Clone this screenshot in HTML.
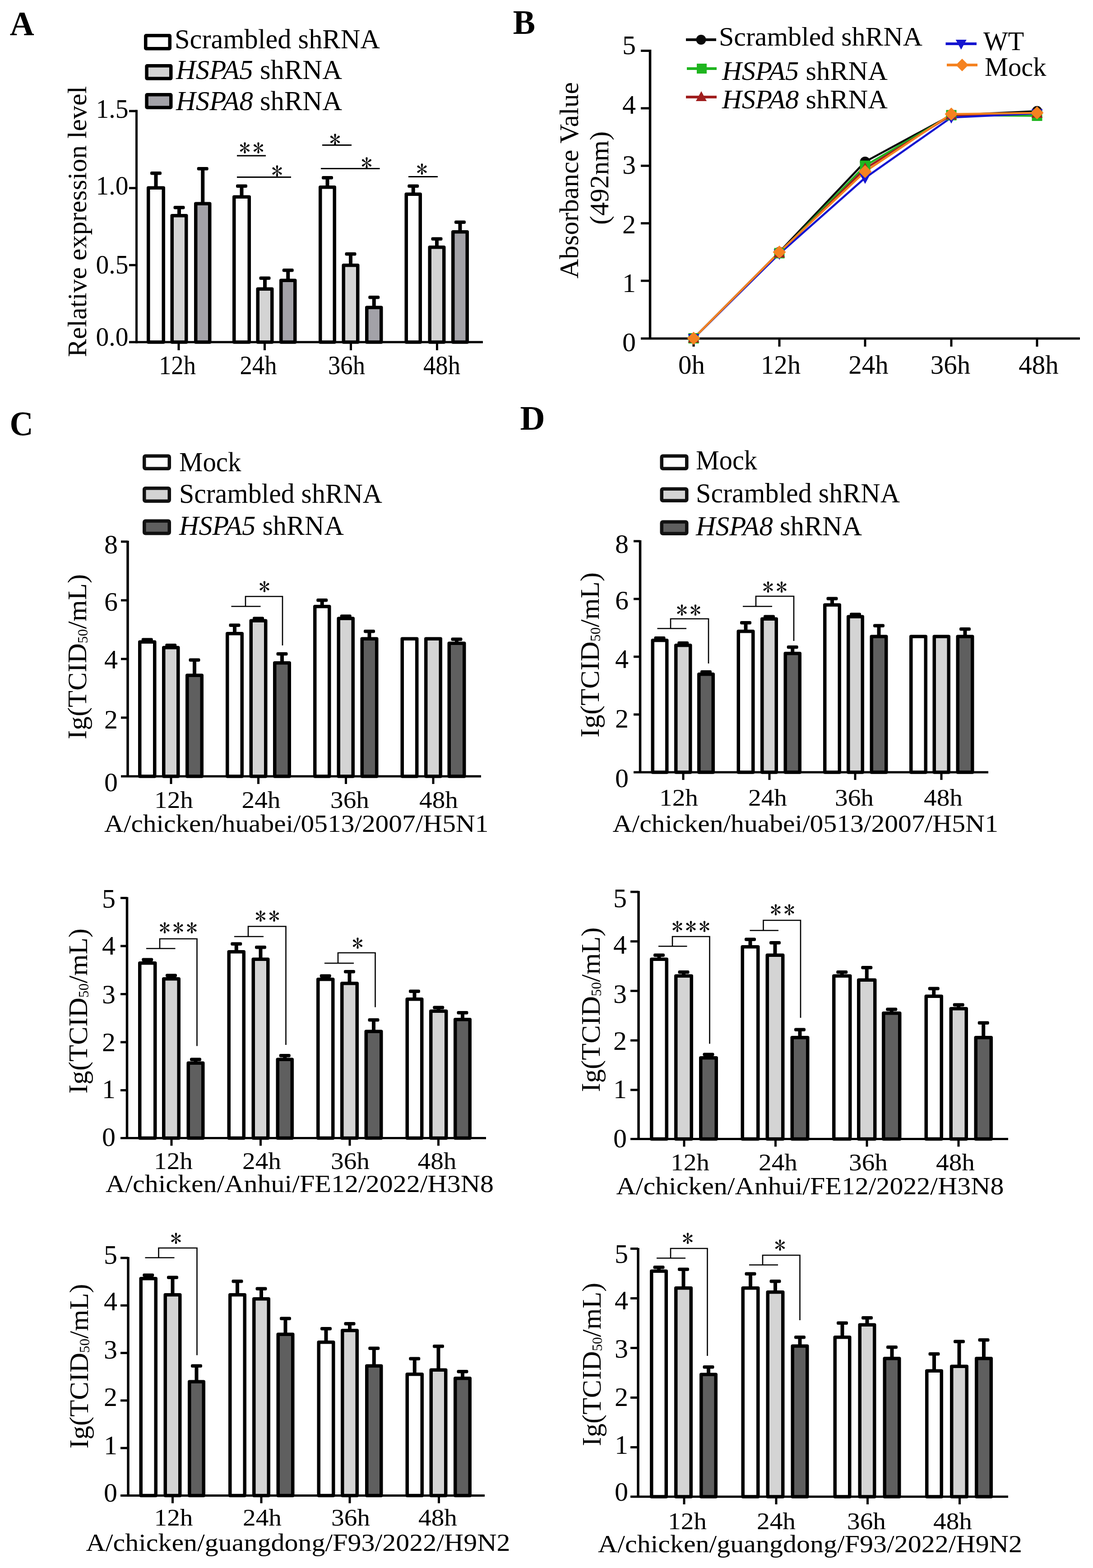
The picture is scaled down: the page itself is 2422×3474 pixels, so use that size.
<!DOCTYPE html><html><head><meta charset="utf-8"><title>Figure</title><style>html,body{margin:0;padding:0;background:#fff;}svg{display:block;}text{font-family:'Liberation Serif','Times New Roman',serif;fill:#000;}text.ast{font-family:"IPAGothic","Liberation Serif",sans-serif;}</style></head><body>
<svg width="2422" height="3474" viewBox="0 0 2422 3474">
<rect x="0" y="0" width="2422" height="3474" fill="#fff"/>
<text x="21.7" y="77.5" font-size="77" textLength="53.9" lengthAdjust="spacingAndGlyphs" font-weight="bold">A</text>
<rect x="322.75" y="78.75" width="53.5" height="29" rx="1" fill="#fff" stroke="#000" stroke-width="7.5"/>
<rect x="325.05" y="145.75" width="53.7" height="28.3" rx="1" fill="#d4d4d4" stroke="#000" stroke-width="7.5"/>
<rect x="325.05" y="209.75" width="53.7" height="28.5" rx="1" fill="#a3a2a8" stroke="#000" stroke-width="7.5"/>
<text x="387" y="106.5" font-size="62" textLength="455" lengthAdjust="spacingAndGlyphs">Scrambled shRNA</text>
<text x="390" y="175" font-size="62" textLength="368" lengthAdjust="spacingAndGlyphs"><tspan font-style="italic">HSPA5</tspan> shRNA</text>
<text x="390" y="244" font-size="62" textLength="368" lengthAdjust="spacingAndGlyphs"><tspan font-style="italic">HSPA8</tspan> shRNA</text>
<line x1="302.5" y1="243.5" x2="302.5" y2="760.5" stroke="#000" stroke-width="5" stroke-linecap="butt"/>
<line x1="286" y1="246.05" x2="302.5" y2="246.05" stroke="#000" stroke-width="5" stroke-linecap="butt"/>
<line x1="286" y1="416.7" x2="302.5" y2="416.7" stroke="#000" stroke-width="5" stroke-linecap="butt"/>
<line x1="286" y1="587.35" x2="302.5" y2="587.35" stroke="#000" stroke-width="5" stroke-linecap="butt"/>
<line x1="286" y1="758" x2="1070" y2="758" stroke="#000" stroke-width="5" stroke-linecap="butt"/>
<line x1="396" y1="758" x2="396" y2="776" stroke="#000" stroke-width="5" stroke-linecap="butt"/>
<line x1="586.5" y1="758" x2="586.5" y2="776" stroke="#000" stroke-width="5" stroke-linecap="butt"/>
<line x1="777.5" y1="758" x2="777.5" y2="776" stroke="#000" stroke-width="5" stroke-linecap="butt"/>
<line x1="968.5" y1="758" x2="968.5" y2="776" stroke="#000" stroke-width="5" stroke-linecap="butt"/>
<text x="284.5" y="261" font-size="60" text-anchor="end" textLength="72" lengthAdjust="spacingAndGlyphs">1.5</text>
<text x="284.5" y="431" font-size="60" text-anchor="end" textLength="72" lengthAdjust="spacingAndGlyphs">1.0</text>
<text x="284.5" y="606" font-size="60" text-anchor="end" textLength="72" lengthAdjust="spacingAndGlyphs">0.5</text>
<text x="284.5" y="766" font-size="60" text-anchor="end" textLength="72" lengthAdjust="spacingAndGlyphs">0.0</text>
<text transform="translate(191,491) rotate(-90)" x="0" y="0" font-size="59" text-anchor="middle" textLength="600" lengthAdjust="spacingAndGlyphs">Relative expression level</text>
<text x="393" y="829" font-size="59" text-anchor="middle" textLength="82" lengthAdjust="spacingAndGlyphs">12h</text>
<text x="572.5" y="829" font-size="59" text-anchor="middle" textLength="82" lengthAdjust="spacingAndGlyphs">24h</text>
<text x="768" y="829" font-size="59" text-anchor="middle" textLength="82" lengthAdjust="spacingAndGlyphs">36h</text>
<text x="979" y="829" font-size="59" text-anchor="middle" textLength="82" lengthAdjust="spacingAndGlyphs">48h</text>
<rect x="328.75" y="416.25" width="33.5" height="341.75" fill="#fff" stroke="#000" stroke-width="7.5" stroke-linejoin="round"/>
<line x1="345.5" y1="414.5" x2="345.5" y2="383.5" stroke="#000" stroke-width="8" stroke-linecap="butt"/>
<rect x="333" y="380" width="25" height="7.5" rx="3" fill="#000"/>
<rect x="381.25" y="477.75" width="31.5" height="280.25" fill="#d4d4d4" stroke="#000" stroke-width="7.5" stroke-linejoin="round"/>
<line x1="397" y1="476" x2="397" y2="459.5" stroke="#000" stroke-width="8" stroke-linecap="butt"/>
<rect x="384.5" y="456" width="25" height="7.5" rx="3" fill="#000"/>
<rect x="433.75" y="451.25" width="31" height="306.75" fill="#a3a2a8" stroke="#000" stroke-width="7.5" stroke-linejoin="round"/>
<line x1="449.25" y1="449.5" x2="449.25" y2="373.5" stroke="#000" stroke-width="8" stroke-linecap="butt"/>
<rect x="436.75" y="370" width="25" height="7.5" rx="3" fill="#000"/>
<rect x="518.75" y="436.25" width="33.5" height="321.75" fill="#fff" stroke="#000" stroke-width="7.5" stroke-linejoin="round"/>
<line x1="535.5" y1="434.5" x2="535.5" y2="412" stroke="#000" stroke-width="8" stroke-linecap="butt"/>
<rect x="523" y="408.5" width="25" height="7.5" rx="3" fill="#000"/>
<rect x="571.25" y="640.25" width="31.5" height="117.75" fill="#d4d4d4" stroke="#000" stroke-width="7.5" stroke-linejoin="round"/>
<line x1="587" y1="638.5" x2="587" y2="616" stroke="#000" stroke-width="8" stroke-linecap="butt"/>
<rect x="574.5" y="612.5" width="25" height="7.5" rx="3" fill="#000"/>
<rect x="622.75" y="621.25" width="31" height="136.75" fill="#a3a2a8" stroke="#000" stroke-width="7.5" stroke-linejoin="round"/>
<line x1="638.25" y1="619.5" x2="638.25" y2="598.5" stroke="#000" stroke-width="8" stroke-linecap="butt"/>
<rect x="625.75" y="595" width="25" height="7.5" rx="3" fill="#000"/>
<rect x="709.75" y="414.75" width="31.5" height="343.25" fill="#fff" stroke="#000" stroke-width="7.5" stroke-linejoin="round"/>
<line x1="725.5" y1="413" x2="725.5" y2="393.5" stroke="#000" stroke-width="8" stroke-linecap="butt"/>
<rect x="713" y="390" width="25" height="7.5" rx="3" fill="#000"/>
<rect x="761.25" y="587.75" width="31.5" height="170.25" fill="#d4d4d4" stroke="#000" stroke-width="7.5" stroke-linejoin="round"/>
<line x1="777" y1="586" x2="777" y2="562.5" stroke="#000" stroke-width="8" stroke-linecap="butt"/>
<rect x="764.5" y="559" width="25" height="7.5" rx="3" fill="#000"/>
<rect x="812.75" y="681.25" width="32" height="76.75" fill="#a3a2a8" stroke="#000" stroke-width="7.5" stroke-linejoin="round"/>
<line x1="828.75" y1="679.5" x2="828.75" y2="658.5" stroke="#000" stroke-width="8" stroke-linecap="butt"/>
<rect x="816.25" y="655" width="25" height="7.5" rx="3" fill="#000"/>
<rect x="900.25" y="430.25" width="31" height="327.75" fill="#fff" stroke="#000" stroke-width="7.5" stroke-linejoin="round"/>
<line x1="915.75" y1="428.5" x2="915.75" y2="412" stroke="#000" stroke-width="8" stroke-linecap="butt"/>
<rect x="903.25" y="408.5" width="25" height="7.5" rx="3" fill="#000"/>
<rect x="952.25" y="547.75" width="31.5" height="210.25" fill="#d4d4d4" stroke="#000" stroke-width="7.5" stroke-linejoin="round"/>
<line x1="968" y1="546" x2="968" y2="529" stroke="#000" stroke-width="8" stroke-linecap="butt"/>
<rect x="955.5" y="525.5" width="25" height="7.5" rx="3" fill="#000"/>
<rect x="1003.75" y="513.75" width="31.5" height="244.25" fill="#a3a2a8" stroke="#000" stroke-width="7.5" stroke-linejoin="round"/>
<line x1="1019.5" y1="512" x2="1019.5" y2="492" stroke="#000" stroke-width="8" stroke-linecap="butt"/>
<rect x="1007" y="488.5" width="25" height="7.5" rx="3" fill="#000"/>
<line x1="525" y1="345" x2="589" y2="345" stroke="#000" stroke-width="2.8" stroke-linecap="butt"/>
<text class="ast" x="542.5" y="346" font-size="50" text-anchor="middle">*</text>
<text class="ast" x="572.5" y="346" font-size="50" text-anchor="middle">*</text>
<line x1="525" y1="392.5" x2="645" y2="392.5" stroke="#000" stroke-width="2.8" stroke-linecap="butt"/>
<text class="ast" x="614" y="396.5" font-size="50" text-anchor="middle">*</text>
<line x1="714" y1="321.5" x2="779" y2="321.5" stroke="#000" stroke-width="2.8" stroke-linecap="butt"/>
<text class="ast" x="742.5" y="326.5" font-size="50" text-anchor="middle">*</text>
<line x1="711" y1="373.5" x2="841.5" y2="373.5" stroke="#000" stroke-width="2.8" stroke-linecap="butt"/>
<text class="ast" x="812.5" y="379" font-size="50" text-anchor="middle">*</text>
<line x1="905" y1="391.5" x2="970" y2="391.5" stroke="#000" stroke-width="2.8" stroke-linecap="butt"/>
<text class="ast" x="935" y="393" font-size="50" text-anchor="middle">*</text>
<text x="1136.7" y="75" font-size="77" textLength="49.3" lengthAdjust="spacingAndGlyphs" font-weight="bold">B</text>
<line x1="1440.5" y1="110" x2="1440.5" y2="752" stroke="#000" stroke-width="5.5" stroke-linecap="butt"/>
<line x1="1420" y1="622.1" x2="1440.5" y2="622.1" stroke="#000" stroke-width="5" stroke-linecap="butt"/>
<line x1="1420" y1="494.7" x2="1440.5" y2="494.7" stroke="#000" stroke-width="5" stroke-linecap="butt"/>
<line x1="1420" y1="367.3" x2="1440.5" y2="367.3" stroke="#000" stroke-width="5" stroke-linecap="butt"/>
<line x1="1420" y1="239.9" x2="1440.5" y2="239.9" stroke="#000" stroke-width="5" stroke-linecap="butt"/>
<line x1="1420" y1="112.5" x2="1440.5" y2="112.5" stroke="#000" stroke-width="5" stroke-linecap="butt"/>
<line x1="1420" y1="750" x2="2393" y2="750" stroke="#000" stroke-width="5" stroke-linecap="butt"/>
<line x1="1537" y1="750" x2="1537" y2="768" stroke="#000" stroke-width="5" stroke-linecap="butt"/>
<line x1="1727" y1="750" x2="1727" y2="768" stroke="#000" stroke-width="5" stroke-linecap="butt"/>
<line x1="1917" y1="750" x2="1917" y2="768" stroke="#000" stroke-width="5" stroke-linecap="butt"/>
<line x1="2108" y1="750" x2="2108" y2="768" stroke="#000" stroke-width="5" stroke-linecap="butt"/>
<line x1="2298" y1="750" x2="2298" y2="768" stroke="#000" stroke-width="5" stroke-linecap="butt"/>
<text x="1409" y="119.5" font-size="60" text-anchor="end">5</text>
<text x="1409" y="252" font-size="60" text-anchor="end">4</text>
<text x="1409" y="384.5" font-size="60" text-anchor="end">3</text>
<text x="1409" y="517" font-size="60" text-anchor="end">2</text>
<text x="1409" y="647" font-size="60" text-anchor="end">1</text>
<text x="1409" y="778" font-size="60" text-anchor="end">0</text>
<text transform="translate(1281,399.5) rotate(-90)" x="0" y="0" font-size="60" text-anchor="middle" textLength="435" lengthAdjust="spacingAndGlyphs">Absorbance Value</text>
<text transform="translate(1348,394.5) rotate(-90)" x="0" y="0" font-size="60" text-anchor="middle" textLength="207" lengthAdjust="spacingAndGlyphs">(492nm)</text>
<text x="1532.5" y="828" font-size="59" text-anchor="middle">0h</text>
<text x="1730" y="828" font-size="59" text-anchor="middle">12h</text>
<text x="1924.5" y="828" font-size="59" text-anchor="middle">24h</text>
<text x="2106" y="828" font-size="59" text-anchor="middle">36h</text>
<text x="2301.5" y="828" font-size="59" text-anchor="middle">48h</text>
<polyline points="1537,749.5 1727,558.4 1917,358.38 2108,255.19 2298,246.27" fill="none" stroke="#0a0a0a" stroke-width="4.5" stroke-linejoin="round"/>
<polyline points="1537,749.5 1727,560.95 1917,367.3 2108,255.19 2298,256.46" fill="none" stroke="#1fb51f" stroke-width="4.5" stroke-linejoin="round"/>
<polyline points="1537,749.5 1727,560.95 1917,373.67 2108,255.19 2298,251.37" fill="none" stroke="#a01e1e" stroke-width="4.5" stroke-linejoin="round"/>
<polyline points="1537,749.5 1727,562.22 1917,394.05 2108,260.28 2298,251.37" fill="none" stroke="#1515d0" stroke-width="4.5" stroke-linejoin="round"/>
<polyline points="1537,749.5 1727,558.4 1917,380.04 2108,252.64 2298,250.09" fill="none" stroke="#f58220" stroke-width="4.5" stroke-linejoin="round"/>
<circle cx="1537" cy="749.5" r="11.5" fill="#0a0a0a"/>
<circle cx="1727" cy="558.4" r="11.5" fill="#0a0a0a"/>
<circle cx="1917" cy="358.38" r="11.5" fill="#0a0a0a"/>
<circle cx="2108" cy="255.19" r="11.5" fill="#0a0a0a"/>
<circle cx="2298" cy="246.27" r="11.5" fill="#0a0a0a"/>
<rect x="1525.5" y="738" width="23" height="23" fill="#1fb51f"/>
<rect x="1715.5" y="549.45" width="23" height="23" fill="#1fb51f"/>
<rect x="1905.5" y="355.8" width="23" height="23" fill="#1fb51f"/>
<rect x="2096.5" y="243.69" width="23" height="23" fill="#1fb51f"/>
<rect x="2286.5" y="244.96" width="23" height="23" fill="#1fb51f"/>
<polygon points="1537,736 1549.5,759 1524.5,759" fill="#a01e1e"/>
<polygon points="1727,547.45 1739.5,570.45 1714.5,570.45" fill="#a01e1e"/>
<polygon points="1917,360.17 1929.5,383.17 1904.5,383.17" fill="#a01e1e"/>
<polygon points="2108,241.69 2120.5,264.69 2095.5,264.69" fill="#a01e1e"/>
<polygon points="2298,237.87 2310.5,260.87 2285.5,260.87" fill="#a01e1e"/>
<polygon points="1537,763 1549.5,740 1524.5,740" fill="#1515d0"/>
<polygon points="1727,575.72 1739.5,552.72 1714.5,552.72" fill="#1515d0"/>
<polygon points="1917,407.55 1929.5,384.55 1904.5,384.55" fill="#1515d0"/>
<polygon points="2108,273.78 2120.5,250.78 2095.5,250.78" fill="#1515d0"/>
<polygon points="2298,264.87 2310.5,241.87 2285.5,241.87" fill="#1515d0"/>
<polygon points="1537,735 1551.5,749.5 1537,764 1522.5,749.5" fill="#f58220"/>
<polygon points="1727,543.9 1741.5,558.4 1727,572.9 1712.5,558.4" fill="#f58220"/>
<polygon points="1917,365.54 1931.5,380.04 1917,394.54 1902.5,380.04" fill="#f58220"/>
<polygon points="2108,238.14 2122.5,252.64 2108,267.14 2093.5,252.64" fill="#f58220"/>
<polygon points="2298,235.59 2312.5,250.09 2298,264.59 2283.5,250.09" fill="#f58220"/>
<line x1="1520" y1="88" x2="1587" y2="88" stroke="#0a0a0a" stroke-width="6" stroke-linecap="butt"/>
<circle cx="1553.5" cy="88" r="11" fill="#0a0a0a"/>
<text x="1593" y="101" font-size="60" textLength="451" lengthAdjust="spacingAndGlyphs">Scrambled shRNA</text>
<line x1="1522" y1="152" x2="1588" y2="152" stroke="#1fb51f" stroke-width="6" stroke-linecap="butt"/>
<rect x="1544" y="141" width="22" height="22" fill="#1fb51f"/>
<text x="1600" y="177" font-size="60" textLength="367" lengthAdjust="spacingAndGlyphs"><tspan font-style="italic">HSPA5</tspan> shRNA</text>
<line x1="1520" y1="215" x2="1588" y2="215" stroke="#a01e1e" stroke-width="6" stroke-linecap="butt"/>
<polygon points="1554,202 1566,224 1542,224" fill="#a01e1e"/>
<text x="1600" y="240" font-size="60" textLength="367" lengthAdjust="spacingAndGlyphs"><tspan font-style="italic">HSPA8</tspan> shRNA</text>
<line x1="2095.5" y1="97" x2="2164" y2="97" stroke="#1515d0" stroke-width="6" stroke-linecap="butt"/>
<polygon points="2129.75,110 2141.75,88 2117.75,88" fill="#1515d0"/>
<text x="2179" y="111" font-size="60" textLength="90" lengthAdjust="spacingAndGlyphs">WT</text>
<line x1="2098" y1="144" x2="2166" y2="144" stroke="#f58220" stroke-width="6" stroke-linecap="butt"/>
<polygon points="2132,130 2146,144 2132,158 2118,144" fill="#f58220"/>
<text x="2182" y="167.5" font-size="60" textLength="136.5" lengthAdjust="spacingAndGlyphs">Mock</text>
<text x="21.4" y="964" font-size="77" textLength="52.1" lengthAdjust="spacingAndGlyphs" font-weight="bold">C</text>
<rect x="319.75" y="1010.25" width="55.5" height="28" rx="2.5" fill="#fff" stroke="#111" stroke-width="7.5"/>
<rect x="319.75" y="1081.75" width="55.5" height="28.5" rx="2.5" fill="#d4d4d4" stroke="#111" stroke-width="7.5"/>
<rect x="319.75" y="1154.25" width="55.5" height="27.5" rx="2.5" fill="#5f5f5f" stroke="#111" stroke-width="7.5"/>
<text x="397" y="1043.5" font-size="62" textLength="137.5" lengthAdjust="spacingAndGlyphs">Mock</text>
<text x="397" y="1113.5" font-size="62" textLength="450" lengthAdjust="spacingAndGlyphs">Scrambled shRNA</text>
<text x="397" y="1185" font-size="62" textLength="365" lengthAdjust="spacingAndGlyphs"><tspan font-style="italic">HSPA5</tspan> shRNA</text>
<line x1="283" y1="1198" x2="283" y2="1722" stroke="#000" stroke-width="5.5" stroke-linecap="butt"/>
<line x1="268" y1="1590" x2="283" y2="1590" stroke="#000" stroke-width="5" stroke-linecap="butt"/>
<line x1="268" y1="1460" x2="283" y2="1460" stroke="#000" stroke-width="5" stroke-linecap="butt"/>
<line x1="268" y1="1330" x2="283" y2="1330" stroke="#000" stroke-width="5" stroke-linecap="butt"/>
<line x1="268" y1="1200" x2="283" y2="1200" stroke="#000" stroke-width="5" stroke-linecap="butt"/>
<line x1="268" y1="1720" x2="1066" y2="1720" stroke="#000" stroke-width="5" stroke-linecap="butt"/>
<line x1="379" y1="1720" x2="379" y2="1737" stroke="#000" stroke-width="5" stroke-linecap="butt"/>
<line x1="572.5" y1="1720" x2="572.5" y2="1737" stroke="#000" stroke-width="5" stroke-linecap="butt"/>
<line x1="766.5" y1="1720" x2="766.5" y2="1737" stroke="#000" stroke-width="5" stroke-linecap="butt"/>
<line x1="960" y1="1720" x2="960" y2="1737" stroke="#000" stroke-width="5" stroke-linecap="butt"/>
<text x="261" y="1226" font-size="60" text-anchor="end">8</text>
<text x="261" y="1353" font-size="60" text-anchor="end">6</text>
<text x="261" y="1481" font-size="60" text-anchor="end">4</text>
<text x="261" y="1614" font-size="60" text-anchor="end">2</text>
<text x="261" y="1752.5" font-size="60" text-anchor="end">0</text>
<text transform="translate(191,1455) rotate(-90)" x="0" y="0" font-size="59" text-anchor="middle" textLength="366" lengthAdjust="spacingAndGlyphs">Ig(TCID<tspan font-size="30.68" dy="3">50</tspan><tspan dy="-3">/mL)</tspan></text>
<text x="385" y="1790" font-size="53" text-anchor="middle" textLength="86" lengthAdjust="spacingAndGlyphs">12h</text>
<text x="578.5" y="1790" font-size="53" text-anchor="middle" textLength="86" lengthAdjust="spacingAndGlyphs">24h</text>
<text x="775" y="1790" font-size="53" text-anchor="middle" textLength="86" lengthAdjust="spacingAndGlyphs">36h</text>
<text x="972" y="1790" font-size="53" text-anchor="middle" textLength="86" lengthAdjust="spacingAndGlyphs">48h</text>
<text x="231" y="1842.5" font-size="55" textLength="851.5" lengthAdjust="spacingAndGlyphs">A/chicken/huabei/0513/2007/H5N1</text>
<rect x="309.75" y="1422.25" width="33" height="297.75" fill="#fff" stroke="#000" stroke-width="7.5" stroke-linejoin="round"/>
<rect x="313.75" y="1413.5" width="25" height="11" rx="3" fill="#000"/>
<rect x="362.75" y="1434.75" width="32" height="285.25" fill="#d4d4d4" stroke="#000" stroke-width="7.5" stroke-linejoin="round"/>
<rect x="366.25" y="1426" width="25" height="11" rx="3" fill="#000"/>
<rect x="414.75" y="1496.25" width="32.5" height="223.75" fill="#5f5f5f" stroke="#000" stroke-width="7.5" stroke-linejoin="round"/>
<line x1="431" y1="1494.5" x2="431" y2="1462" stroke="#000" stroke-width="8" stroke-linecap="butt"/>
<rect x="418.5" y="1458.5" width="25" height="7.5" rx="3" fill="#000"/>
<rect x="503.75" y="1403.75" width="32.5" height="316.25" fill="#fff" stroke="#000" stroke-width="7.5" stroke-linejoin="round"/>
<line x1="520" y1="1402" x2="520" y2="1385" stroke="#000" stroke-width="8" stroke-linecap="butt"/>
<rect x="507.5" y="1381.5" width="25" height="7.5" rx="3" fill="#000"/>
<rect x="556.25" y="1375.25" width="32.5" height="344.75" fill="#d4d4d4" stroke="#000" stroke-width="7.5" stroke-linejoin="round"/>
<rect x="560" y="1366.5" width="25" height="11" rx="3" fill="#000"/>
<rect x="608.75" y="1468.75" width="32.5" height="251.25" fill="#5f5f5f" stroke="#000" stroke-width="7.5" stroke-linejoin="round"/>
<line x1="625" y1="1467" x2="625" y2="1448.5" stroke="#000" stroke-width="8" stroke-linecap="butt"/>
<rect x="612.5" y="1445" width="25" height="7.5" rx="3" fill="#000"/>
<rect x="697.75" y="1343.75" width="32" height="376.25" fill="#fff" stroke="#000" stroke-width="7.5" stroke-linejoin="round"/>
<line x1="713.75" y1="1342" x2="713.75" y2="1329.5" stroke="#000" stroke-width="8" stroke-linecap="butt"/>
<rect x="701.25" y="1326" width="25" height="7.5" rx="3" fill="#000"/>
<rect x="750.25" y="1370.25" width="32" height="349.75" fill="#d4d4d4" stroke="#000" stroke-width="7.5" stroke-linejoin="round"/>
<rect x="753.75" y="1361.5" width="25" height="11" rx="3" fill="#000"/>
<rect x="802.25" y="1415.25" width="32.5" height="304.75" fill="#5f5f5f" stroke="#000" stroke-width="7.5" stroke-linejoin="round"/>
<line x1="818.5" y1="1413.5" x2="818.5" y2="1398.5" stroke="#000" stroke-width="8" stroke-linecap="butt"/>
<rect x="806" y="1395" width="25" height="7.5" rx="3" fill="#000"/>
<rect x="891.25" y="1415.25" width="32.5" height="304.75" fill="#fff" stroke="#000" stroke-width="7.5" stroke-linejoin="round"/>
<rect x="943.75" y="1415.25" width="32.5" height="304.75" fill="#d4d4d4" stroke="#000" stroke-width="7.5" stroke-linejoin="round"/>
<rect x="995.25" y="1425.25" width="33.5" height="294.75" fill="#5f5f5f" stroke="#000" stroke-width="7.5" stroke-linejoin="round"/>
<line x1="1012" y1="1423.5" x2="1012" y2="1416" stroke="#000" stroke-width="8" stroke-linecap="butt"/>
<rect x="999.5" y="1412.5" width="25" height="7.5" rx="3" fill="#000"/>
<line x1="512.5" y1="1343.5" x2="577.5" y2="1343.5" stroke="#000" stroke-width="2.6" stroke-linecap="butt"/>
<polyline points="544,1343.5 544,1321.5 626,1321.5 626,1430" fill="none" stroke="#000" stroke-width="2.6" stroke-linejoin="miter"/>
<text class="ast" x="586" y="1318" font-size="50" text-anchor="middle">*</text>
<line x1="281.5" y1="1987.5" x2="281.5" y2="2523.5" stroke="#000" stroke-width="5.5" stroke-linecap="butt"/>
<line x1="267" y1="2415.5" x2="281.5" y2="2415.5" stroke="#000" stroke-width="5" stroke-linecap="butt"/>
<line x1="267" y1="2309" x2="281.5" y2="2309" stroke="#000" stroke-width="5" stroke-linecap="butt"/>
<line x1="267" y1="2202.5" x2="281.5" y2="2202.5" stroke="#000" stroke-width="5" stroke-linecap="butt"/>
<line x1="267" y1="2096" x2="281.5" y2="2096" stroke="#000" stroke-width="5" stroke-linecap="butt"/>
<line x1="267" y1="1989.5" x2="281.5" y2="1989.5" stroke="#000" stroke-width="5" stroke-linecap="butt"/>
<line x1="267" y1="2521.5" x2="1077" y2="2521.5" stroke="#000" stroke-width="5" stroke-linecap="butt"/>
<line x1="380" y1="2521.5" x2="380" y2="2538.5" stroke="#000" stroke-width="5" stroke-linecap="butt"/>
<line x1="577.5" y1="2521.5" x2="577.5" y2="2538.5" stroke="#000" stroke-width="5" stroke-linecap="butt"/>
<line x1="775" y1="2521.5" x2="775" y2="2538.5" stroke="#000" stroke-width="5" stroke-linecap="butt"/>
<line x1="971.5" y1="2521.5" x2="971.5" y2="2538.5" stroke="#000" stroke-width="5" stroke-linecap="butt"/>
<text x="256" y="2011" font-size="60" text-anchor="end">5</text>
<text x="256" y="2114.5" font-size="60" text-anchor="end">4</text>
<text x="256" y="2223" font-size="60" text-anchor="end">3</text>
<text x="256" y="2329" font-size="60" text-anchor="end">2</text>
<text x="256" y="2433" font-size="60" text-anchor="end">1</text>
<text x="256" y="2539" font-size="60" text-anchor="end">0</text>
<text transform="translate(193,2240) rotate(-90)" x="0" y="0" font-size="59" text-anchor="middle" textLength="366" lengthAdjust="spacingAndGlyphs">Ig(TCID<tspan font-size="30.68" dy="3">50</tspan><tspan dy="-3">/mL)</tspan></text>
<text x="384" y="2590" font-size="53" text-anchor="middle" textLength="86" lengthAdjust="spacingAndGlyphs">12h</text>
<text x="580" y="2590" font-size="53" text-anchor="middle" textLength="86" lengthAdjust="spacingAndGlyphs">24h</text>
<text x="776" y="2590" font-size="53" text-anchor="middle" textLength="86" lengthAdjust="spacingAndGlyphs">36h</text>
<text x="968.5" y="2590" font-size="53" text-anchor="middle" textLength="86" lengthAdjust="spacingAndGlyphs">48h</text>
<text x="234" y="2640.5" font-size="55" textLength="860" lengthAdjust="spacingAndGlyphs">A/chicken/Anhui/FE12/2022/H3N8</text>
<rect x="309.75" y="2133.75" width="34" height="387.75" fill="#fff" stroke="#000" stroke-width="7.5" stroke-linejoin="round"/>
<line x1="326.75" y1="2132" x2="326.75" y2="2126" stroke="#000" stroke-width="8" stroke-linecap="butt"/>
<rect x="314.25" y="2122.5" width="25" height="7.5" rx="3" fill="#000"/>
<rect x="362.75" y="2168.75" width="33.5" height="352.75" fill="#d4d4d4" stroke="#000" stroke-width="7.5" stroke-linejoin="round"/>
<line x1="379.5" y1="2167" x2="379.5" y2="2161" stroke="#000" stroke-width="8" stroke-linecap="butt"/>
<rect x="367" y="2157.5" width="25" height="7.5" rx="3" fill="#000"/>
<rect x="417.25" y="2355.25" width="32.5" height="166.25" fill="#5f5f5f" stroke="#000" stroke-width="7.5" stroke-linejoin="round"/>
<line x1="433.5" y1="2353.5" x2="433.5" y2="2347" stroke="#000" stroke-width="8" stroke-linecap="butt"/>
<rect x="421" y="2343.5" width="25" height="7.5" rx="3" fill="#000"/>
<rect x="507.25" y="2108.75" width="33" height="412.75" fill="#fff" stroke="#000" stroke-width="7.5" stroke-linejoin="round"/>
<line x1="523.75" y1="2107" x2="523.75" y2="2091" stroke="#000" stroke-width="8" stroke-linecap="butt"/>
<rect x="511.25" y="2087.5" width="25" height="7.5" rx="3" fill="#000"/>
<rect x="561.25" y="2125.25" width="32.5" height="396.25" fill="#d4d4d4" stroke="#000" stroke-width="7.5" stroke-linejoin="round"/>
<line x1="577.5" y1="2123.5" x2="577.5" y2="2098.5" stroke="#000" stroke-width="8" stroke-linecap="butt"/>
<rect x="565" y="2095" width="25" height="7.5" rx="3" fill="#000"/>
<rect x="615.25" y="2347.25" width="32" height="174.25" fill="#5f5f5f" stroke="#000" stroke-width="7.5" stroke-linejoin="round"/>
<line x1="631.25" y1="2345.5" x2="631.25" y2="2338.5" stroke="#000" stroke-width="8" stroke-linecap="butt"/>
<rect x="618.75" y="2335" width="25" height="7.5" rx="3" fill="#000"/>
<rect x="704.75" y="2169.75" width="33" height="351.75" fill="#fff" stroke="#000" stroke-width="7.5" stroke-linejoin="round"/>
<line x1="721.25" y1="2168" x2="721.25" y2="2162" stroke="#000" stroke-width="8" stroke-linecap="butt"/>
<rect x="708.75" y="2158.5" width="25" height="7.5" rx="3" fill="#000"/>
<rect x="757.75" y="2178.75" width="33.5" height="342.75" fill="#d4d4d4" stroke="#000" stroke-width="7.5" stroke-linejoin="round"/>
<line x1="774.5" y1="2177" x2="774.5" y2="2152.5" stroke="#000" stroke-width="8" stroke-linecap="butt"/>
<rect x="762" y="2149" width="25" height="7.5" rx="3" fill="#000"/>
<rect x="811.25" y="2285.25" width="33.5" height="236.25" fill="#5f5f5f" stroke="#000" stroke-width="7.5" stroke-linejoin="round"/>
<line x1="828" y1="2283.5" x2="828" y2="2259.5" stroke="#000" stroke-width="8" stroke-linecap="butt"/>
<rect x="815.5" y="2256" width="25" height="7.5" rx="3" fill="#000"/>
<rect x="902.25" y="2213.75" width="32.5" height="307.75" fill="#fff" stroke="#000" stroke-width="7.5" stroke-linejoin="round"/>
<line x1="918.5" y1="2212" x2="918.5" y2="2196" stroke="#000" stroke-width="8" stroke-linecap="butt"/>
<rect x="906" y="2192.5" width="25" height="7.5" rx="3" fill="#000"/>
<rect x="954.75" y="2240.25" width="34" height="281.25" fill="#d4d4d4" stroke="#000" stroke-width="7.5" stroke-linejoin="round"/>
<line x1="971.75" y1="2238.5" x2="971.75" y2="2232" stroke="#000" stroke-width="8" stroke-linecap="butt"/>
<rect x="959.25" y="2228.5" width="25" height="7.5" rx="3" fill="#000"/>
<rect x="1008.75" y="2258.75" width="32.5" height="262.75" fill="#5f5f5f" stroke="#000" stroke-width="7.5" stroke-linejoin="round"/>
<line x1="1025" y1="2257" x2="1025" y2="2243.5" stroke="#000" stroke-width="8" stroke-linecap="butt"/>
<rect x="1012.5" y="2240" width="25" height="7.5" rx="3" fill="#000"/>
<line x1="324" y1="2101.5" x2="388.5" y2="2101.5" stroke="#000" stroke-width="2.6" stroke-linecap="butt"/>
<polyline points="354,2101.5 354,2080 436.5,2080 436.5,2317.5" fill="none" stroke="#000" stroke-width="2.6" stroke-linejoin="miter"/>
<text class="ast" x="365" y="2074" font-size="50" text-anchor="middle">*</text>
<text class="ast" x="395" y="2074" font-size="50" text-anchor="middle">*</text>
<text class="ast" x="425" y="2074" font-size="50" text-anchor="middle">*</text>
<line x1="519" y1="2075" x2="584" y2="2075" stroke="#000" stroke-width="2.6" stroke-linecap="butt"/>
<polyline points="550,2075 550,2052.5 633.5,2052.5 633.5,2315" fill="none" stroke="#000" stroke-width="2.6" stroke-linejoin="miter"/>
<text class="ast" x="577.5" y="2047.5" font-size="50" text-anchor="middle">*</text>
<text class="ast" x="607.5" y="2047.5" font-size="50" text-anchor="middle">*</text>
<line x1="719" y1="2134" x2="784" y2="2134" stroke="#000" stroke-width="2.6" stroke-linecap="butt"/>
<polyline points="749,2134 749,2111 831.5,2111 831.5,2231.5" fill="none" stroke="#000" stroke-width="2.6" stroke-linejoin="miter"/>
<text class="ast" x="792.5" y="2108" font-size="50" text-anchor="middle">*</text>
<line x1="284" y1="2785" x2="284" y2="3315.5" stroke="#000" stroke-width="5.5" stroke-linecap="butt"/>
<line x1="267" y1="3208.2" x2="284" y2="3208.2" stroke="#000" stroke-width="5" stroke-linecap="butt"/>
<line x1="267" y1="3102.9" x2="284" y2="3102.9" stroke="#000" stroke-width="5" stroke-linecap="butt"/>
<line x1="267" y1="2997.6" x2="284" y2="2997.6" stroke="#000" stroke-width="5" stroke-linecap="butt"/>
<line x1="267" y1="2892.3" x2="284" y2="2892.3" stroke="#000" stroke-width="5" stroke-linecap="butt"/>
<line x1="267" y1="2787" x2="284" y2="2787" stroke="#000" stroke-width="5" stroke-linecap="butt"/>
<line x1="267" y1="3313.5" x2="1074" y2="3313.5" stroke="#000" stroke-width="5" stroke-linecap="butt"/>
<line x1="382.5" y1="3313.5" x2="382.5" y2="3330.5" stroke="#000" stroke-width="5" stroke-linecap="butt"/>
<line x1="579" y1="3313.5" x2="579" y2="3330.5" stroke="#000" stroke-width="5" stroke-linecap="butt"/>
<line x1="775" y1="3313.5" x2="775" y2="3330.5" stroke="#000" stroke-width="5" stroke-linecap="butt"/>
<line x1="972.5" y1="3313.5" x2="972.5" y2="3330.5" stroke="#000" stroke-width="5" stroke-linecap="butt"/>
<text x="260" y="2800" font-size="60" text-anchor="end">5</text>
<text x="260" y="2903" font-size="60" text-anchor="end">4</text>
<text x="260" y="3009.5" font-size="60" text-anchor="end">3</text>
<text x="260" y="3115" font-size="60" text-anchor="end">2</text>
<text x="260" y="3222" font-size="60" text-anchor="end">1</text>
<text x="260" y="3327" font-size="60" text-anchor="end">0</text>
<text transform="translate(195,3027) rotate(-90)" x="0" y="0" font-size="59" text-anchor="middle" textLength="365" lengthAdjust="spacingAndGlyphs">Ig(TCID<tspan font-size="30.68" dy="3">50</tspan><tspan dy="-3">/mL)</tspan></text>
<text x="384.5" y="3380" font-size="53" text-anchor="middle" textLength="86" lengthAdjust="spacingAndGlyphs">12h</text>
<text x="581" y="3380" font-size="53" text-anchor="middle" textLength="86" lengthAdjust="spacingAndGlyphs">24h</text>
<text x="777" y="3380" font-size="53" text-anchor="middle" textLength="86" lengthAdjust="spacingAndGlyphs">36h</text>
<text x="970" y="3380" font-size="53" text-anchor="middle" textLength="86" lengthAdjust="spacingAndGlyphs">48h</text>
<text x="190.5" y="3436" font-size="55" textLength="940" lengthAdjust="spacingAndGlyphs">A/chicken/guangdong/F93/2022/H9N2</text>
<rect x="312.25" y="2832.75" width="33" height="480.75" fill="#fff" stroke="#000" stroke-width="7.5" stroke-linejoin="round"/>
<line x1="328.75" y1="2831" x2="328.75" y2="2825" stroke="#000" stroke-width="8" stroke-linecap="butt"/>
<rect x="316.25" y="2821.5" width="25" height="7.5" rx="3" fill="#000"/>
<rect x="366.25" y="2868.75" width="32.5" height="444.75" fill="#d4d4d4" stroke="#000" stroke-width="7.5" stroke-linejoin="round"/>
<line x1="382.5" y1="2867" x2="382.5" y2="2830" stroke="#000" stroke-width="8" stroke-linecap="butt"/>
<rect x="370" y="2826.5" width="25" height="7.5" rx="3" fill="#000"/>
<rect x="419.75" y="3061.25" width="31.5" height="252.25" fill="#5f5f5f" stroke="#000" stroke-width="7.5" stroke-linejoin="round"/>
<line x1="435.5" y1="3059.5" x2="435.5" y2="3026" stroke="#000" stroke-width="8" stroke-linecap="butt"/>
<rect x="423" y="3022.5" width="25" height="7.5" rx="3" fill="#000"/>
<rect x="509.75" y="2868.75" width="32.5" height="444.75" fill="#fff" stroke="#000" stroke-width="7.5" stroke-linejoin="round"/>
<line x1="526" y1="2867" x2="526" y2="2838.5" stroke="#000" stroke-width="8" stroke-linecap="butt"/>
<rect x="513.5" y="2835" width="25" height="7.5" rx="3" fill="#000"/>
<rect x="562.75" y="2877.75" width="32.5" height="435.75" fill="#d4d4d4" stroke="#000" stroke-width="7.5" stroke-linejoin="round"/>
<line x1="579" y1="2876" x2="579" y2="2855" stroke="#000" stroke-width="8" stroke-linecap="butt"/>
<rect x="566.5" y="2851.5" width="25" height="7.5" rx="3" fill="#000"/>
<rect x="616.25" y="2956.25" width="32.5" height="357.25" fill="#5f5f5f" stroke="#000" stroke-width="7.5" stroke-linejoin="round"/>
<line x1="632.5" y1="2954.5" x2="632.5" y2="2921" stroke="#000" stroke-width="8" stroke-linecap="butt"/>
<rect x="620" y="2917.5" width="25" height="7.5" rx="3" fill="#000"/>
<rect x="706.25" y="2973.75" width="32.5" height="339.75" fill="#fff" stroke="#000" stroke-width="7.5" stroke-linejoin="round"/>
<line x1="722.5" y1="2972" x2="722.5" y2="2943.5" stroke="#000" stroke-width="8" stroke-linecap="butt"/>
<rect x="710" y="2940" width="25" height="7.5" rx="3" fill="#000"/>
<rect x="758.75" y="2947.75" width="32.5" height="365.75" fill="#d4d4d4" stroke="#000" stroke-width="7.5" stroke-linejoin="round"/>
<line x1="775" y1="2946" x2="775" y2="2932.5" stroke="#000" stroke-width="8" stroke-linecap="butt"/>
<rect x="762.5" y="2929" width="25" height="7.5" rx="3" fill="#000"/>
<rect x="812.75" y="3026.25" width="32" height="287.25" fill="#5f5f5f" stroke="#000" stroke-width="7.5" stroke-linejoin="round"/>
<line x1="828.75" y1="3024.5" x2="828.75" y2="2987" stroke="#000" stroke-width="8" stroke-linecap="butt"/>
<rect x="816.25" y="2983.5" width="25" height="7.5" rx="3" fill="#000"/>
<rect x="902.25" y="3044.75" width="33" height="268.75" fill="#fff" stroke="#000" stroke-width="7.5" stroke-linejoin="round"/>
<line x1="918.75" y1="3043" x2="918.75" y2="3010" stroke="#000" stroke-width="8" stroke-linecap="butt"/>
<rect x="906.25" y="3006.5" width="25" height="7.5" rx="3" fill="#000"/>
<rect x="955.25" y="3035.25" width="32.5" height="278.25" fill="#d4d4d4" stroke="#000" stroke-width="7.5" stroke-linejoin="round"/>
<line x1="971.5" y1="3033.5" x2="971.5" y2="2982.5" stroke="#000" stroke-width="8" stroke-linecap="butt"/>
<rect x="959" y="2979" width="25" height="7.5" rx="3" fill="#000"/>
<rect x="1008.75" y="3053.75" width="32.5" height="259.75" fill="#5f5f5f" stroke="#000" stroke-width="7.5" stroke-linejoin="round"/>
<line x1="1025" y1="3052" x2="1025" y2="3038.5" stroke="#000" stroke-width="8" stroke-linecap="butt"/>
<rect x="1012.5" y="3035" width="25" height="7.5" rx="3" fill="#000"/>
<line x1="321.5" y1="2786.5" x2="386.5" y2="2786.5" stroke="#000" stroke-width="2.6" stroke-linecap="butt"/>
<polyline points="351.5,2786.5 351.5,2765 436.5,2765 436.5,3002.5" fill="none" stroke="#000" stroke-width="2.6" stroke-linejoin="miter"/>
<text class="ast" x="390" y="2761.5" font-size="50" text-anchor="middle">*</text>
<text x="1152.6" y="951.5" font-size="77" textLength="55.2" lengthAdjust="spacingAndGlyphs" font-weight="bold">D</text>
<rect x="1466.25" y="1010.25" width="55.5" height="28" rx="2.5" fill="#fff" stroke="#111" stroke-width="7.5"/>
<rect x="1466.25" y="1083.25" width="55.5" height="26" rx="2.5" fill="#d4d4d4" stroke="#111" stroke-width="7.5"/>
<rect x="1466.25" y="1156.25" width="55.5" height="26" rx="2.5" fill="#5f5f5f" stroke="#111" stroke-width="7.5"/>
<text x="1542" y="1040" font-size="62" textLength="136" lengthAdjust="spacingAndGlyphs">Mock</text>
<text x="1542" y="1113" font-size="62" textLength="452" lengthAdjust="spacingAndGlyphs">Scrambled shRNA</text>
<text x="1542" y="1186" font-size="62" textLength="368" lengthAdjust="spacingAndGlyphs"><tspan font-style="italic">HSPA8</tspan> shRNA</text>
<line x1="1418.5" y1="1197" x2="1418.5" y2="1713" stroke="#000" stroke-width="5.5" stroke-linecap="butt"/>
<line x1="1404" y1="1583" x2="1418.5" y2="1583" stroke="#000" stroke-width="5" stroke-linecap="butt"/>
<line x1="1404" y1="1455" x2="1418.5" y2="1455" stroke="#000" stroke-width="5" stroke-linecap="butt"/>
<line x1="1404" y1="1327" x2="1418.5" y2="1327" stroke="#000" stroke-width="5" stroke-linecap="butt"/>
<line x1="1404" y1="1199" x2="1418.5" y2="1199" stroke="#000" stroke-width="5" stroke-linecap="butt"/>
<line x1="1404" y1="1711" x2="2190" y2="1711" stroke="#000" stroke-width="5" stroke-linecap="butt"/>
<line x1="1514" y1="1711" x2="1514" y2="1728" stroke="#000" stroke-width="5" stroke-linecap="butt"/>
<line x1="1705" y1="1711" x2="1705" y2="1728" stroke="#000" stroke-width="5" stroke-linecap="butt"/>
<line x1="1895" y1="1711" x2="1895" y2="1728" stroke="#000" stroke-width="5" stroke-linecap="butt"/>
<line x1="2086" y1="1711" x2="2086" y2="1728" stroke="#000" stroke-width="5" stroke-linecap="butt"/>
<text x="1393" y="1225" font-size="60" text-anchor="end">8</text>
<text x="1393" y="1350" font-size="60" text-anchor="end">6</text>
<text x="1393" y="1479.5" font-size="60" text-anchor="end">4</text>
<text x="1393" y="1611.5" font-size="60" text-anchor="end">2</text>
<text x="1393" y="1743.5" font-size="60" text-anchor="end">0</text>
<text transform="translate(1327,1451) rotate(-90)" x="0" y="0" font-size="59" text-anchor="middle" textLength="366" lengthAdjust="spacingAndGlyphs">Ig(TCID<tspan font-size="30.68" dy="3">50</tspan><tspan dy="-3">/mL)</tspan></text>
<text x="1504" y="1785" font-size="53" text-anchor="middle" textLength="86" lengthAdjust="spacingAndGlyphs">12h</text>
<text x="1701" y="1785" font-size="53" text-anchor="middle" textLength="86" lengthAdjust="spacingAndGlyphs">24h</text>
<text x="1893" y="1785" font-size="53" text-anchor="middle" textLength="86" lengthAdjust="spacingAndGlyphs">36h</text>
<text x="2090" y="1785" font-size="53" text-anchor="middle" textLength="86" lengthAdjust="spacingAndGlyphs">48h</text>
<text x="1357.5" y="1842.5" font-size="55" textLength="854.5" lengthAdjust="spacingAndGlyphs">A/chicken/huabei/0513/2007/H5N1</text>
<rect x="1446.25" y="1418.75" width="31.5" height="292.25" fill="#fff" stroke="#000" stroke-width="7.5" stroke-linejoin="round"/>
<rect x="1449.5" y="1410" width="25" height="11" rx="3" fill="#000"/>
<rect x="1497.75" y="1429.75" width="32" height="281.25" fill="#d4d4d4" stroke="#000" stroke-width="7.5" stroke-linejoin="round"/>
<rect x="1501.25" y="1421" width="25" height="11" rx="3" fill="#000"/>
<rect x="1548.75" y="1493.75" width="31.5" height="217.25" fill="#5f5f5f" stroke="#000" stroke-width="7.5" stroke-linejoin="round"/>
<rect x="1552" y="1485" width="25" height="11" rx="3" fill="#000"/>
<rect x="1636.25" y="1398.75" width="32.5" height="312.25" fill="#fff" stroke="#000" stroke-width="7.5" stroke-linejoin="round"/>
<line x1="1652.5" y1="1397" x2="1652.5" y2="1379.5" stroke="#000" stroke-width="8" stroke-linecap="butt"/>
<rect x="1640" y="1376" width="25" height="7.5" rx="3" fill="#000"/>
<rect x="1688.75" y="1371.25" width="31.5" height="339.75" fill="#d4d4d4" stroke="#000" stroke-width="7.5" stroke-linejoin="round"/>
<rect x="1692" y="1362.5" width="25" height="11" rx="3" fill="#000"/>
<rect x="1740.25" y="1447.75" width="32" height="263.25" fill="#5f5f5f" stroke="#000" stroke-width="7.5" stroke-linejoin="round"/>
<line x1="1756.25" y1="1446" x2="1756.25" y2="1433.5" stroke="#000" stroke-width="8" stroke-linecap="butt"/>
<rect x="1743.75" y="1430" width="25" height="7.5" rx="3" fill="#000"/>
<rect x="1827.75" y="1340.25" width="32.5" height="370.75" fill="#fff" stroke="#000" stroke-width="7.5" stroke-linejoin="round"/>
<line x1="1844" y1="1338.5" x2="1844" y2="1326" stroke="#000" stroke-width="8" stroke-linecap="butt"/>
<rect x="1831.5" y="1322.5" width="25" height="7.5" rx="3" fill="#000"/>
<rect x="1879.75" y="1366.25" width="31.5" height="344.75" fill="#d4d4d4" stroke="#000" stroke-width="7.5" stroke-linejoin="round"/>
<rect x="1883" y="1357.5" width="25" height="11" rx="3" fill="#000"/>
<rect x="1931.25" y="1410.25" width="32.5" height="300.75" fill="#5f5f5f" stroke="#000" stroke-width="7.5" stroke-linejoin="round"/>
<line x1="1947.5" y1="1408.5" x2="1947.5" y2="1386" stroke="#000" stroke-width="8" stroke-linecap="butt"/>
<rect x="1935" y="1382.5" width="25" height="7.5" rx="3" fill="#000"/>
<rect x="2018.75" y="1410.25" width="32.5" height="300.75" fill="#fff" stroke="#000" stroke-width="7.5" stroke-linejoin="round"/>
<rect x="2070.25" y="1410.25" width="32" height="300.75" fill="#d4d4d4" stroke="#000" stroke-width="7.5" stroke-linejoin="round"/>
<rect x="2122.25" y="1410.25" width="32.5" height="300.75" fill="#5f5f5f" stroke="#000" stroke-width="7.5" stroke-linejoin="round"/>
<line x1="2138.5" y1="1408.5" x2="2138.5" y2="1393.5" stroke="#000" stroke-width="8" stroke-linecap="butt"/>
<rect x="2126" y="1390" width="25" height="7.5" rx="3" fill="#000"/>
<line x1="1456.5" y1="1392.5" x2="1521" y2="1392.5" stroke="#000" stroke-width="2.6" stroke-linecap="butt"/>
<polyline points="1486,1392.5 1486,1371 1570,1371 1570,1470" fill="none" stroke="#000" stroke-width="2.6" stroke-linejoin="miter"/>
<text class="ast" x="1511" y="1370" font-size="50" text-anchor="middle">*</text>
<text class="ast" x="1541" y="1370" font-size="50" text-anchor="middle">*</text>
<line x1="1646" y1="1343.5" x2="1711" y2="1343.5" stroke="#000" stroke-width="2.6" stroke-linecap="butt"/>
<polyline points="1675,1343.5 1675,1321 1759,1321 1759,1420" fill="none" stroke="#000" stroke-width="2.6" stroke-linejoin="miter"/>
<text class="ast" x="1702" y="1319" font-size="50" text-anchor="middle">*</text>
<text class="ast" x="1732" y="1319" font-size="50" text-anchor="middle">*</text>
<line x1="1415" y1="1974" x2="1415" y2="2525.5" stroke="#000" stroke-width="5.5" stroke-linecap="butt"/>
<line x1="1397" y1="2414.8" x2="1415" y2="2414.8" stroke="#000" stroke-width="5" stroke-linecap="butt"/>
<line x1="1397" y1="2305.1" x2="1415" y2="2305.1" stroke="#000" stroke-width="5" stroke-linecap="butt"/>
<line x1="1397" y1="2195.4" x2="1415" y2="2195.4" stroke="#000" stroke-width="5" stroke-linecap="butt"/>
<line x1="1397" y1="2085.7" x2="1415" y2="2085.7" stroke="#000" stroke-width="5" stroke-linecap="butt"/>
<line x1="1397" y1="1976" x2="1415" y2="1976" stroke="#000" stroke-width="5" stroke-linecap="butt"/>
<line x1="1397" y1="2523.5" x2="2234" y2="2523.5" stroke="#000" stroke-width="5" stroke-linecap="butt"/>
<line x1="1516" y1="2523.5" x2="1516" y2="2540.5" stroke="#000" stroke-width="5" stroke-linecap="butt"/>
<line x1="1718.5" y1="2523.5" x2="1718.5" y2="2540.5" stroke="#000" stroke-width="5" stroke-linecap="butt"/>
<line x1="1921" y1="2523.5" x2="1921" y2="2540.5" stroke="#000" stroke-width="5" stroke-linecap="butt"/>
<line x1="2124" y1="2523.5" x2="2124" y2="2540.5" stroke="#000" stroke-width="5" stroke-linecap="butt"/>
<text x="1389" y="2010" font-size="60" text-anchor="end">5</text>
<text x="1389" y="2113" font-size="60" text-anchor="end">4</text>
<text x="1389" y="2221.5" font-size="60" text-anchor="end">3</text>
<text x="1389" y="2326" font-size="60" text-anchor="end">2</text>
<text x="1389" y="2433" font-size="60" text-anchor="end">1</text>
<text x="1389" y="2541.5" font-size="60" text-anchor="end">0</text>
<text transform="translate(1329,2237) rotate(-90)" x="0" y="0" font-size="59" text-anchor="middle" textLength="365" lengthAdjust="spacingAndGlyphs">Ig(TCID<tspan font-size="30.68" dy="3">50</tspan><tspan dy="-3">/mL)</tspan></text>
<text x="1529" y="2592.5" font-size="53" text-anchor="middle" textLength="86" lengthAdjust="spacingAndGlyphs">12h</text>
<text x="1724" y="2592.5" font-size="53" text-anchor="middle" textLength="86" lengthAdjust="spacingAndGlyphs">24h</text>
<text x="1924" y="2592.5" font-size="53" text-anchor="middle" textLength="86" lengthAdjust="spacingAndGlyphs">36h</text>
<text x="2117" y="2592.5" font-size="53" text-anchor="middle" textLength="86" lengthAdjust="spacingAndGlyphs">48h</text>
<text x="1365.5" y="2645.5" font-size="55" textLength="859" lengthAdjust="spacingAndGlyphs">A/chicken/Anhui/FE12/2022/H3N8</text>
<rect x="1443.75" y="2125.25" width="33.5" height="398.25" fill="#fff" stroke="#000" stroke-width="7.5" stroke-linejoin="round"/>
<line x1="1460.5" y1="2123.5" x2="1460.5" y2="2116" stroke="#000" stroke-width="8" stroke-linecap="butt"/>
<rect x="1448" y="2112.5" width="25" height="7.5" rx="3" fill="#000"/>
<rect x="1497.75" y="2162.25" width="34.5" height="361.25" fill="#d4d4d4" stroke="#000" stroke-width="7.5" stroke-linejoin="round"/>
<line x1="1515" y1="2160.5" x2="1515" y2="2153.5" stroke="#000" stroke-width="8" stroke-linecap="butt"/>
<rect x="1502.5" y="2150" width="25" height="7.5" rx="3" fill="#000"/>
<rect x="1552.75" y="2343.75" width="34.5" height="179.75" fill="#5f5f5f" stroke="#000" stroke-width="7.5" stroke-linejoin="round"/>
<line x1="1570" y1="2342" x2="1570" y2="2336" stroke="#000" stroke-width="8" stroke-linecap="butt"/>
<rect x="1557.5" y="2332.5" width="25" height="7.5" rx="3" fill="#000"/>
<rect x="1645.25" y="2097.75" width="34.5" height="425.75" fill="#fff" stroke="#000" stroke-width="7.5" stroke-linejoin="round"/>
<line x1="1662.5" y1="2096" x2="1662.5" y2="2081" stroke="#000" stroke-width="8" stroke-linecap="butt"/>
<rect x="1650" y="2077.5" width="25" height="7.5" rx="3" fill="#000"/>
<rect x="1700.25" y="2116.25" width="34.5" height="407.25" fill="#d4d4d4" stroke="#000" stroke-width="7.5" stroke-linejoin="round"/>
<line x1="1717.5" y1="2114.5" x2="1717.5" y2="2088.5" stroke="#000" stroke-width="8" stroke-linecap="butt"/>
<rect x="1705" y="2085" width="25" height="7.5" rx="3" fill="#000"/>
<rect x="1755.25" y="2298.75" width="34.5" height="224.75" fill="#5f5f5f" stroke="#000" stroke-width="7.5" stroke-linejoin="round"/>
<line x1="1772.5" y1="2297" x2="1772.5" y2="2281" stroke="#000" stroke-width="8" stroke-linecap="butt"/>
<rect x="1760" y="2277.5" width="25" height="7.5" rx="3" fill="#000"/>
<rect x="1847.75" y="2162.25" width="36" height="361.25" fill="#fff" stroke="#000" stroke-width="7.5" stroke-linejoin="round"/>
<line x1="1865.75" y1="2160.5" x2="1865.75" y2="2153.5" stroke="#000" stroke-width="8" stroke-linecap="butt"/>
<rect x="1853.25" y="2150" width="25" height="7.5" rx="3" fill="#000"/>
<rect x="1902.75" y="2171.25" width="36" height="352.25" fill="#d4d4d4" stroke="#000" stroke-width="7.5" stroke-linejoin="round"/>
<line x1="1920.75" y1="2169.5" x2="1920.75" y2="2143.5" stroke="#000" stroke-width="8" stroke-linecap="butt"/>
<rect x="1908.25" y="2140" width="25" height="7.5" rx="3" fill="#000"/>
<rect x="1957.75" y="2244.75" width="36" height="278.75" fill="#5f5f5f" stroke="#000" stroke-width="7.5" stroke-linejoin="round"/>
<line x1="1975.75" y1="2243" x2="1975.75" y2="2236" stroke="#000" stroke-width="8" stroke-linecap="butt"/>
<rect x="1963.25" y="2232.5" width="25" height="7.5" rx="3" fill="#000"/>
<rect x="2052.25" y="2207.25" width="34" height="316.25" fill="#fff" stroke="#000" stroke-width="7.5" stroke-linejoin="round"/>
<line x1="2069.25" y1="2205.5" x2="2069.25" y2="2190" stroke="#000" stroke-width="8" stroke-linecap="butt"/>
<rect x="2056.75" y="2186.5" width="25" height="7.5" rx="3" fill="#000"/>
<rect x="2107.25" y="2234.75" width="34" height="288.75" fill="#d4d4d4" stroke="#000" stroke-width="7.5" stroke-linejoin="round"/>
<line x1="2124.25" y1="2233" x2="2124.25" y2="2226" stroke="#000" stroke-width="8" stroke-linecap="butt"/>
<rect x="2111.75" y="2222.5" width="25" height="7.5" rx="3" fill="#000"/>
<rect x="2162.25" y="2298.75" width="34" height="224.75" fill="#5f5f5f" stroke="#000" stroke-width="7.5" stroke-linejoin="round"/>
<line x1="2179.25" y1="2297" x2="2179.25" y2="2266" stroke="#000" stroke-width="8" stroke-linecap="butt"/>
<rect x="2166.75" y="2262.5" width="25" height="7.5" rx="3" fill="#000"/>
<line x1="1459" y1="2096.5" x2="1522.5" y2="2096.5" stroke="#000" stroke-width="2.6" stroke-linecap="butt"/>
<polyline points="1490,2096.5 1490,2075 1572.5,2075 1572.5,2312.5" fill="none" stroke="#000" stroke-width="2.6" stroke-linejoin="miter"/>
<text class="ast" x="1501" y="2070.5" font-size="50" text-anchor="middle">*</text>
<text class="ast" x="1531" y="2070.5" font-size="50" text-anchor="middle">*</text>
<text class="ast" x="1561" y="2070.5" font-size="50" text-anchor="middle">*</text>
<line x1="1661.5" y1="2061.5" x2="1725" y2="2061.5" stroke="#000" stroke-width="2.6" stroke-linecap="butt"/>
<polyline points="1691.5,2061.5 1691.5,2039 1774,2039 1774,2255" fill="none" stroke="#000" stroke-width="2.6" stroke-linejoin="miter"/>
<text class="ast" x="1719" y="2034" font-size="50" text-anchor="middle">*</text>
<text class="ast" x="1749" y="2034" font-size="50" text-anchor="middle">*</text>
<line x1="1414" y1="2765" x2="1414" y2="3318" stroke="#000" stroke-width="5.5" stroke-linecap="butt"/>
<line x1="1397" y1="3206.5" x2="1414" y2="3206.5" stroke="#000" stroke-width="5" stroke-linecap="butt"/>
<line x1="1397" y1="3096.5" x2="1414" y2="3096.5" stroke="#000" stroke-width="5" stroke-linecap="butt"/>
<line x1="1397" y1="2986.5" x2="1414" y2="2986.5" stroke="#000" stroke-width="5" stroke-linecap="butt"/>
<line x1="1397" y1="2876.5" x2="1414" y2="2876.5" stroke="#000" stroke-width="5" stroke-linecap="butt"/>
<line x1="1397" y1="2766.5" x2="1414" y2="2766.5" stroke="#000" stroke-width="5" stroke-linecap="butt"/>
<line x1="1397" y1="3316" x2="2234" y2="3316" stroke="#000" stroke-width="5" stroke-linecap="butt"/>
<line x1="1516" y1="3316" x2="1516" y2="3333" stroke="#000" stroke-width="5" stroke-linecap="butt"/>
<line x1="1720" y1="3316" x2="1720" y2="3333" stroke="#000" stroke-width="5" stroke-linecap="butt"/>
<line x1="1922.5" y1="3316" x2="1922.5" y2="3333" stroke="#000" stroke-width="5" stroke-linecap="butt"/>
<line x1="2126.5" y1="3316" x2="2126.5" y2="3333" stroke="#000" stroke-width="5" stroke-linecap="butt"/>
<text x="1392" y="2797.5" font-size="60" text-anchor="end">5</text>
<text x="1392" y="2901" font-size="60" text-anchor="end">4</text>
<text x="1392" y="3008" font-size="60" text-anchor="end">3</text>
<text x="1392" y="3115" font-size="60" text-anchor="end">2</text>
<text x="1392" y="3221" font-size="60" text-anchor="end">1</text>
<text x="1392" y="3325" font-size="60" text-anchor="end">0</text>
<text transform="translate(1331,3023) rotate(-90)" x="0" y="0" font-size="59" text-anchor="middle" textLength="362" lengthAdjust="spacingAndGlyphs">Ig(TCID<tspan font-size="30.68" dy="3">50</tspan><tspan dy="-3">/mL)</tspan></text>
<text x="1523" y="3387.5" font-size="53" text-anchor="middle" textLength="86" lengthAdjust="spacingAndGlyphs">12h</text>
<text x="1720" y="3387.5" font-size="53" text-anchor="middle" textLength="86" lengthAdjust="spacingAndGlyphs">24h</text>
<text x="1920" y="3387.5" font-size="53" text-anchor="middle" textLength="86" lengthAdjust="spacingAndGlyphs">36h</text>
<text x="2111" y="3387.5" font-size="53" text-anchor="middle" textLength="86" lengthAdjust="spacingAndGlyphs">48h</text>
<text x="1325" y="3439" font-size="55" textLength="940" lengthAdjust="spacingAndGlyphs">A/chicken/guangdong/F93/2022/H9N2</text>
<rect x="1443.75" y="2816.25" width="32.5" height="499.75" fill="#fff" stroke="#000" stroke-width="7.5" stroke-linejoin="round"/>
<line x1="1460" y1="2814.5" x2="1460" y2="2807.5" stroke="#000" stroke-width="8" stroke-linecap="butt"/>
<rect x="1447.5" y="2804" width="25" height="7.5" rx="3" fill="#000"/>
<rect x="1497.75" y="2853.75" width="33.5" height="462.25" fill="#d4d4d4" stroke="#000" stroke-width="7.5" stroke-linejoin="round"/>
<line x1="1514.5" y1="2852" x2="1514.5" y2="2812" stroke="#000" stroke-width="8" stroke-linecap="butt"/>
<rect x="1502" y="2808.5" width="25" height="7.5" rx="3" fill="#000"/>
<rect x="1553.75" y="3045.25" width="32.5" height="270.75" fill="#5f5f5f" stroke="#000" stroke-width="7.5" stroke-linejoin="round"/>
<line x1="1570" y1="3043.5" x2="1570" y2="3028.5" stroke="#000" stroke-width="8" stroke-linecap="butt"/>
<rect x="1557.5" y="3025" width="25" height="7.5" rx="3" fill="#000"/>
<rect x="1646.25" y="2853.75" width="33.5" height="462.25" fill="#fff" stroke="#000" stroke-width="7.5" stroke-linejoin="round"/>
<line x1="1663" y1="2852" x2="1663" y2="2822" stroke="#000" stroke-width="8" stroke-linecap="butt"/>
<rect x="1650.5" y="2818.5" width="25" height="7.5" rx="3" fill="#000"/>
<rect x="1701.25" y="2862.75" width="33.5" height="453.25" fill="#d4d4d4" stroke="#000" stroke-width="7.5" stroke-linejoin="round"/>
<line x1="1718" y1="2861" x2="1718" y2="2838.5" stroke="#000" stroke-width="8" stroke-linecap="butt"/>
<rect x="1705.5" y="2835" width="25" height="7.5" rx="3" fill="#000"/>
<rect x="1756.25" y="2982.25" width="32.5" height="333.75" fill="#5f5f5f" stroke="#000" stroke-width="7.5" stroke-linejoin="round"/>
<line x1="1772.5" y1="2980.5" x2="1772.5" y2="2962.5" stroke="#000" stroke-width="8" stroke-linecap="butt"/>
<rect x="1760" y="2959" width="25" height="7.5" rx="3" fill="#000"/>
<rect x="1850.25" y="2962.75" width="32.5" height="353.25" fill="#fff" stroke="#000" stroke-width="7.5" stroke-linejoin="round"/>
<line x1="1866.5" y1="2961" x2="1866.5" y2="2931" stroke="#000" stroke-width="8" stroke-linecap="butt"/>
<rect x="1854" y="2927.5" width="25" height="7.5" rx="3" fill="#000"/>
<rect x="1905.25" y="2935.25" width="32.5" height="380.75" fill="#d4d4d4" stroke="#000" stroke-width="7.5" stroke-linejoin="round"/>
<line x1="1921.5" y1="2933.5" x2="1921.5" y2="2919.5" stroke="#000" stroke-width="8" stroke-linecap="butt"/>
<rect x="1909" y="2916" width="25" height="7.5" rx="3" fill="#000"/>
<rect x="1960.25" y="3009.75" width="32.5" height="306.25" fill="#5f5f5f" stroke="#000" stroke-width="7.5" stroke-linejoin="round"/>
<line x1="1976.5" y1="3008" x2="1976.5" y2="2984.5" stroke="#000" stroke-width="8" stroke-linecap="butt"/>
<rect x="1964" y="2981" width="25" height="7.5" rx="3" fill="#000"/>
<rect x="2053.75" y="3037.25" width="32.5" height="278.75" fill="#fff" stroke="#000" stroke-width="7.5" stroke-linejoin="round"/>
<line x1="2070" y1="3035.5" x2="2070" y2="2999.5" stroke="#000" stroke-width="8" stroke-linecap="butt"/>
<rect x="2057.5" y="2996" width="25" height="7.5" rx="3" fill="#000"/>
<rect x="2108.75" y="3027.25" width="33.5" height="288.75" fill="#d4d4d4" stroke="#000" stroke-width="7.5" stroke-linejoin="round"/>
<line x1="2125.5" y1="3025.5" x2="2125.5" y2="2972" stroke="#000" stroke-width="8" stroke-linecap="butt"/>
<rect x="2113" y="2968.5" width="25" height="7.5" rx="3" fill="#000"/>
<rect x="2163.75" y="3009.75" width="32.5" height="306.25" fill="#5f5f5f" stroke="#000" stroke-width="7.5" stroke-linejoin="round"/>
<line x1="2180" y1="3008" x2="2180" y2="2968.5" stroke="#000" stroke-width="8" stroke-linecap="butt"/>
<rect x="2167.5" y="2965" width="25" height="7.5" rx="3" fill="#000"/>
<line x1="1455" y1="2787.5" x2="1519" y2="2787.5" stroke="#000" stroke-width="2.6" stroke-linecap="butt"/>
<polyline points="1486,2787.5 1486,2766 1567.5,2766 1567.5,3004" fill="none" stroke="#000" stroke-width="2.6" stroke-linejoin="miter"/>
<text class="ast" x="1524" y="2761.5" font-size="50" text-anchor="middle">*</text>
<line x1="1660" y1="2802.5" x2="1724" y2="2802.5" stroke="#000" stroke-width="2.6" stroke-linecap="butt"/>
<polyline points="1690,2802.5 1690,2781 1772.5,2781 1772.5,2925" fill="none" stroke="#000" stroke-width="2.6" stroke-linejoin="miter"/>
<text class="ast" x="1728.5" y="2776.5" font-size="50" text-anchor="middle">*</text>
</svg></body></html>
